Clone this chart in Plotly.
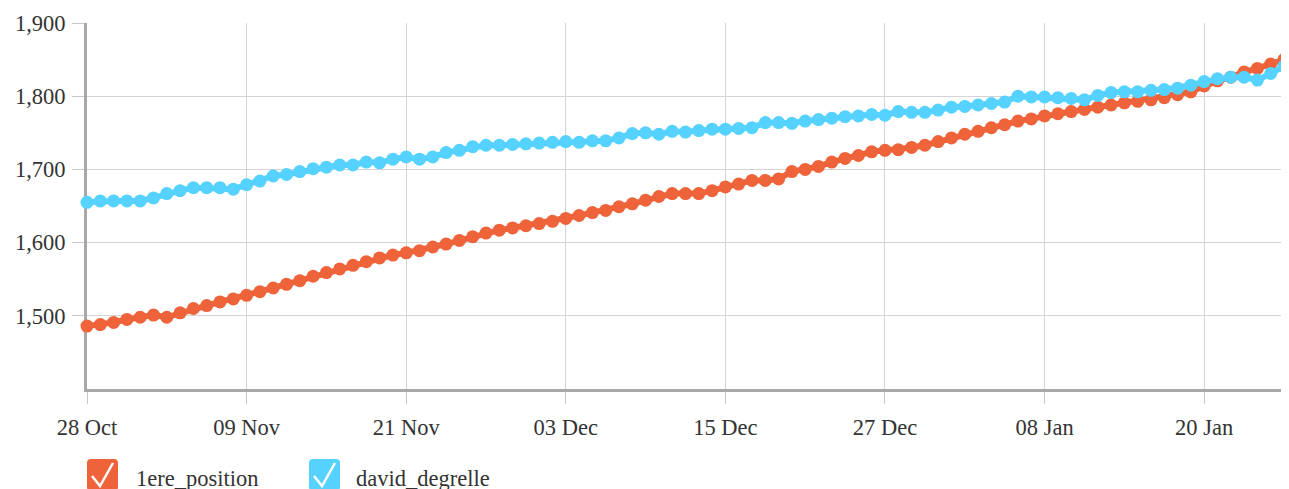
import pandas as pd
import plotly.graph_objects as go

start_date = "2013-10-28"
n_days = 91
dates = pd.date_range(start_date, periods=n_days, freq="D")

series_names = ["1ere_position", "david_degrelle"]
series_colors = ["#EE6339", "#55D2FF"]

premiere_position = [
    1486, 1488, 1491, 1495, 1498, 1501, 1498, 1504, 1510, 1514,
    1519, 1523, 1528, 1533, 1538, 1543, 1548, 1554, 1559, 1564,
    1569, 1574, 1579, 1583, 1586, 1589, 1594, 1598, 1603, 1608,
    1613, 1617, 1620, 1623, 1626, 1629, 1633, 1637, 1641, 1644,
    1649, 1653, 1658, 1663, 1667, 1667, 1667, 1671, 1676, 1680,
    1685, 1685, 1687, 1697, 1700, 1704, 1710, 1715, 1719, 1724,
    1726, 1727, 1730, 1733, 1738, 1743, 1748, 1752, 1757, 1761,
    1766, 1769, 1773, 1776, 1779, 1782, 1785, 1788, 1791, 1793,
    1795, 1798, 1802, 1806, 1814, 1821, 1826, 1833, 1838, 1844,
    1850,
]

david_degrelle = [
    1655, 1657, 1657, 1657, 1657, 1661, 1667, 1671, 1675, 1675,
    1675, 1673, 1679, 1684, 1691, 1693, 1697, 1701, 1703, 1706,
    1706, 1710, 1709, 1714, 1717, 1714, 1717, 1723, 1726, 1731,
    1733, 1733, 1734, 1735, 1736, 1737, 1738, 1737, 1739, 1739,
    1743, 1749, 1750, 1748, 1752, 1751, 1753, 1755, 1755, 1756,
    1757, 1764, 1764, 1763, 1766, 1768, 1770, 1772, 1773, 1775,
    1774, 1779, 1778, 1778, 1781, 1785, 1786, 1788, 1790, 1792,
    1800, 1799, 1799, 1798, 1797, 1795, 1801, 1805, 1806, 1806,
    1808, 1809, 1811, 1815, 1820, 1824, 1826, 1826, 1822, 1831,
    1841,
]

y_tick_values = [1500, 1600, 1700, 1800, 1900]

# page body has an 8px offset; screen coords = figure coords + OFF
OFF = 8
W, H = 1289, 489
ML, MR, MT, MB = 87 - OFF, 0, 23 - OFF, 108
PW, PH = W - ML - MR, H - MT - MB


def px(sx):
    return (sx - OFF - ML) / PW


def py(sy):
    return (H - MB - (sy - OFF)) / PH


fig = go.Figure()
for name, vals, col in zip(series_names, [premiere_position, david_degrelle], series_colors):
    fig.add_trace(go.Scatter(
        x=dates, y=vals, name=name, mode="lines+markers",
        line=dict(color=col, width=6),
        marker=dict(color=col, size=13),
        cliponaxis=False, hoverinfo="skip",
    ))

font_family = "Liberation Serif, Times New Roman, serif"
FS = 22.5

fig.update_layout(
    width=W, height=H,
    margin=dict(l=ML, r=MR, t=MT, b=MB, autoexpand=False),
    paper_bgcolor="white", plot_bgcolor="white",
    showlegend=False,
    font=dict(family=font_family, size=FS, color="#333333"),
    xaxis=dict(
        type="date",
        range=["2013-10-28", "2014-01-26 23:30"],
        tick0="2013-10-28", dtick=12 * 86400000,
        tickformat="%d %b",
        showgrid=True, gridcolor="#d4d4d4", gridwidth=1,
        showline=True, linecolor="#a8a8a8", linewidth=3,
        ticks="outside", ticklen=12, tickcolor="#c8c8c8", tickwidth=1,
        ticklabelstandoff=4, automargin=False,
        zeroline=False, layer="below traces",
    ),
    yaxis=dict(
        range=[1400, 1900],
        tickvals=y_tick_values, tickformat=",",
        showgrid=True, gridcolor="#d4d4d4", gridwidth=1,
        showline=True, linecolor="#a8a8a8", linewidth=3,
        ticks="outside", ticklen=12, tickcolor="#c8c8c8", tickwidth=1,
        ticklabelstandoff=2, automargin=False,
        zeroline=False, layer="below traces",
    ),
)

# Legend drawn manually (checkbox style), positions in screen pixels
legend_items = [(87, 134), (309, 354)]
shapes = []
annotations = []
for (bx, tx), name, col in zip(legend_items, series_names, series_colors):
    x0, x1 = bx, bx + 31
    y0, y1 = 459, 491
    r = 4
    path = (
        f"M {px(x0 + r)},{py(y0)} L {px(x1 - r)},{py(y0)} "
        f"Q {px(x1)},{py(y0)} {px(x1)},{py(y0 + r)} "
        f"L {px(x1)},{py(y1 - r)} Q {px(x1)},{py(y1)} {px(x1 - r)},{py(y1)} "
        f"L {px(x0 + r)},{py(y1)} Q {px(x0)},{py(y1)} {px(x0)},{py(y1 - r)} "
        f"L {px(x0)},{py(y0 + r)} Q {px(x0)},{py(y0)} {px(x0 + r)},{py(y0)} Z"
    )
    shapes.append(dict(type="path", xref="paper", yref="paper", path=path,
                       fillcolor=col, line=dict(width=0)))
    check = (f"M {px(bx + 5)},{py(476)} L {px(bx + 13)},{py(486)} "
             f"L {px(bx + 26)},{py(463)}")
    shapes.append(dict(type="path", xref="paper", yref="paper", path=check,
                       line=dict(color="white", width=2.5)))
    annotations.append(dict(
        xref="paper", yref="paper", x=px(tx), y=py(478),
        xanchor="left", yanchor="middle", showarrow=False, text=name,
        font=dict(family=font_family, size=FS, color="#333333"),
    ))

fig.update_layout(shapes=shapes, annotations=annotations)

fig.write_html("out.html")
